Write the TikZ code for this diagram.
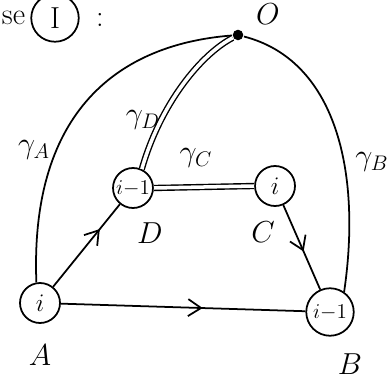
\documentclass[tikz,border=0pt]{standalone}
\usepackage{amsmath,amssymb}
\usetikzlibrary{arrows.meta,decorations.markings}

\begin{document}
\begin{tikzpicture}[x=0.02cm,y=-0.02cm,line width=1pt,
 site/.style={draw,circle,line width=1pt,minimum size=0.8cm,inner sep=0pt,font=\Large},
 lab/.style={font=\LARGE},
 pathlab/.style={font=\LARGE},
 midarrow/.style={postaction={decorate},decoration={markings,
   mark=at position #1 with {\arrow{Straight Barb[length=2.6mm,width=3.4mm]}}}},
 twin/.style={double,double distance=2pt,line width=0.8pt}]
\useasboundingbox (0,0) rectangle (391,381);
% heading
\node[anchor=west,font=\LARGE,inner sep=0pt] (head) at (1,18) {se};
\node[draw,circle,line width=1pt,minimum size=0.95cm,inner sep=0pt,font=\LARGE] (case) at (55,18) {I};
\node[font=\LARGE] (colon) at (100,20) {:};
% sites
\node[site] (A) at (40,303) {$i$};
\node[site,font=\large] (D) at (133,188) {$i{-}1$};
\node[site] (C) at (275,186) {$i$};
\node[site,minimum size=0.95cm,font=\large] (B) at (330,312) {$i{-}1$};
\node[circle,fill,inner sep=0pt,minimum size=6pt] (O) at (238,35) {};
% names
\node[lab] (Aname) at (40,355) {$A$};
\node[lab] (Dname) at (150,233) {$D$};
\node[lab] (Cname) at (263,232) {$C$};
\node[lab] (Bname) at (350,364) {$B$};
\node[lab] (Oname) at (268,14) {$O$};
% paths to O
\draw (A.100) .. controls (30,120) and (110,45) .. (O);
\draw (O) .. controls (335,60) and (362,170) .. (B.55);
\draw[twin] (D.65) .. controls (160,105) and (200,55) .. (O);
\draw[twin] (D.east) -- (C.west);
\node[pathlab] (gA) at (34,150) {$\gamma_A$};
\node[pathlab] (gB) at (372,162) {$\gamma_B$};
\node[pathlab] (gD) at (143,120) {$\gamma_D$};
\node[pathlab] (gC) at (196,158) {$\gamma_C$};
% oriented edges
\draw[midarrow=0.7] (A) -- (D);
\draw[midarrow=0.58] (A) -- (B);
\draw[midarrow=0.55] (C) -- (B);
\end{tikzpicture}
\end{document}
